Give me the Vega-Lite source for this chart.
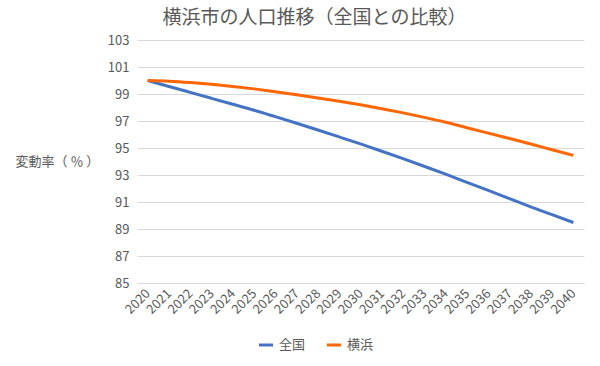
{
  "$schema": "https://vega.github.io/schema/vega-lite/v6.json",
  "autosize": {"type": "none"},
  "padding": {"left": 137, "top": 40, "right": 16, "bottom": 83},
  "width": 447,
  "height": 243,
  "background": "white",
  "title": {
    "text": "横浜市の人口推移（全国との比較）",
    "font": "Noto Sans CJK JP",
    "fontSize": 19,
    "fontWeight": "normal",
    "color": "#595959",
    "anchor": "middle",
    "dx": -46,
    "offset": 6
  },
  "data": {
    "values": [
      {"year": "2020", "series": "全国", "value": 100.0},
      {"year": "2021", "series": "全国", "value": 99.56},
      {"year": "2022", "series": "全国", "value": 99.12},
      {"year": "2023", "series": "全国", "value": 98.68},
      {"year": "2024", "series": "全国", "value": 98.24},
      {"year": "2025", "series": "全国", "value": 97.8},
      {"year": "2026", "series": "全国", "value": 97.32},
      {"year": "2027", "series": "全国", "value": 96.83},
      {"year": "2028", "series": "全国", "value": 96.33},
      {"year": "2029", "series": "全国", "value": 95.82},
      {"year": "2030", "series": "全国", "value": 95.3},
      {"year": "2031", "series": "全国", "value": 94.76},
      {"year": "2032", "series": "全国", "value": 94.21},
      {"year": "2033", "series": "全国", "value": 93.64},
      {"year": "2034", "series": "全国", "value": 93.06},
      {"year": "2035", "series": "全国", "value": 92.45},
      {"year": "2036", "series": "全国", "value": 91.86},
      {"year": "2037", "series": "全国", "value": 91.25},
      {"year": "2038", "series": "全国", "value": 90.64},
      {"year": "2039", "series": "全国", "value": 90.06},
      {"year": "2040", "series": "全国", "value": 89.48},
      {"year": "2020", "series": "横浜", "value": 100.0},
      {"year": "2021", "series": "横浜", "value": 99.95},
      {"year": "2022", "series": "横浜", "value": 99.85},
      {"year": "2023", "series": "横浜", "value": 99.72},
      {"year": "2024", "series": "横浜", "value": 99.56},
      {"year": "2025", "series": "横浜", "value": 99.38},
      {"year": "2026", "series": "横浜", "value": 99.17},
      {"year": "2027", "series": "横浜", "value": 98.95},
      {"year": "2028", "series": "横浜", "value": 98.71},
      {"year": "2029", "series": "横浜", "value": 98.46},
      {"year": "2030", "series": "横浜", "value": 98.2},
      {"year": "2031", "series": "横浜", "value": 97.91},
      {"year": "2032", "series": "横浜", "value": 97.6},
      {"year": "2033", "series": "横浜", "value": 97.27},
      {"year": "2034", "series": "横浜", "value": 96.91},
      {"year": "2035", "series": "横浜", "value": 96.5},
      {"year": "2036", "series": "横浜", "value": 96.1},
      {"year": "2037", "series": "横浜", "value": 95.7},
      {"year": "2038", "series": "横浜", "value": 95.3},
      {"year": "2039", "series": "横浜", "value": 94.87},
      {"year": "2040", "series": "横浜", "value": 94.45}
    ]
  },
  "mark": {"type": "line", "strokeWidth": 3, "interpolate": "monotone"},
  "encoding": {
    "x": {
      "field": "year",
      "type": "ordinal",
      "scale": {"type": "point", "padding": 0.5},
      "axis": {
        "title": null,
        "labelAngle": -45,
        "labelAlign": "right",
        "labelBaseline": "middle",
        "labelPadding": 8,
        "ticks": false,
        "domain": true,
        "domainColor": "#d9d9d9",
        "grid": false,
        "labelFont": "Noto Sans CJK JP",
        "labelFontSize": 13,
        "labelColor": "#595959"
      }
    },
    "y": {
      "field": "value",
      "type": "quantitative",
      "scale": {"domain": [85, 103], "nice": false, "zero": false},
      "axis": {
        "values": [85, 87, 89, 91, 93, 95, 97, 99, 101, 103],
        "title": "変動率（ ％ ）",
        "titleAngle": 0,
        "titleX": -122,
        "titleY": 121,
        "titleAlign": "left",
        "titleBaseline": "middle",
        "titleFont": "Noto Sans CJK JP",
        "titleFontSize": 13,
        "titleFontWeight": "normal",
        "titleColor": "#595959",
        "labelFont": "Noto Sans CJK JP",
        "labelFontSize": 13,
        "labelColor": "#595959",
        "labelPadding": 8,
        "ticks": false,
        "domain": false,
        "grid": true,
        "gridColor": "#d9d9d9",
        "gridWidth": 1
      }
    },
    "color": {
      "field": "series",
      "type": "nominal",
      "scale": {"domain": ["全国", "横浜"], "range": ["#4472C4", "#FF6600"]},
      "legend": {
        "title": null,
        "orient": "none",
        "direction": "horizontal",
        "legendX": 120,
        "legendY": 296,
        "symbolType": "stroke",
        "symbolSize": 200,
        "symbolStrokeWidth": 3,
        "labelFont": "Noto Sans CJK JP",
        "labelFontSize": 13,
        "labelColor": "#595959",
        "columnPadding": 14,
        "labelOffset": 4
      }
    }
  },
  "config": {"view": {"stroke": null}}
}
